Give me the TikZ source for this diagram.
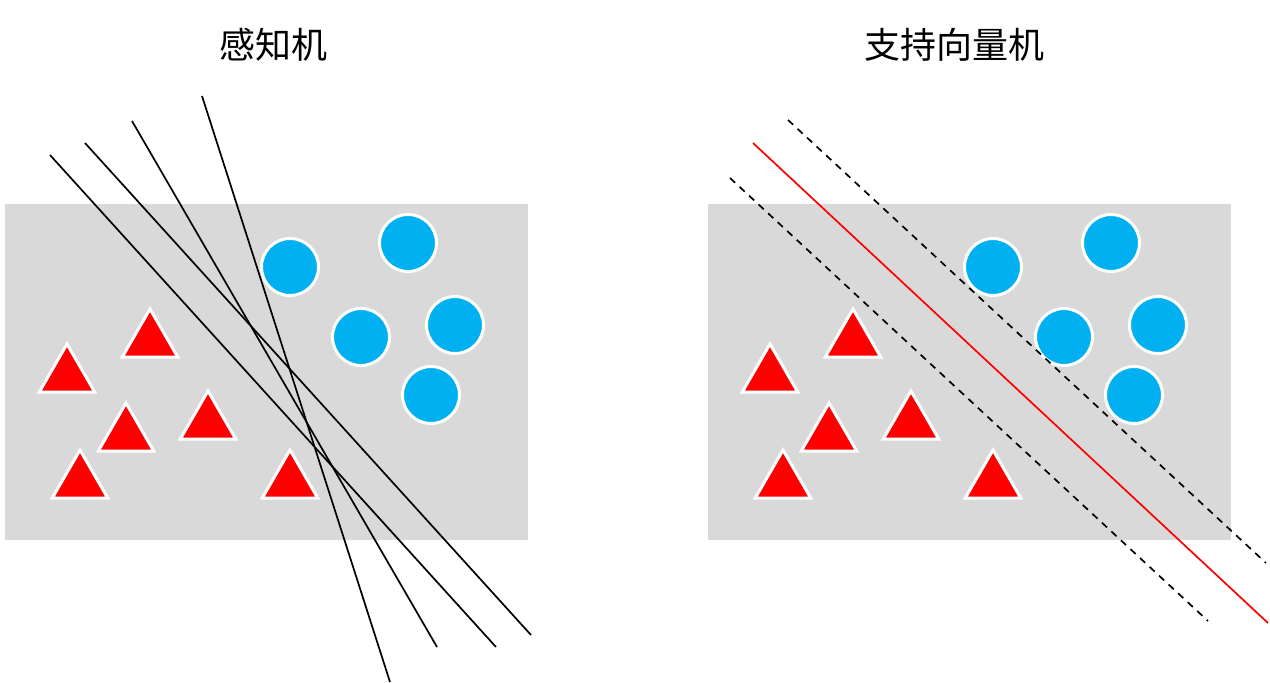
\documentclass[tikz,border=0pt]{standalone}
\usepackage{fontspec}
\newfontfamily\cjk{Noto Sans CJK SC}
\usetikzlibrary{shapes.geometric}
\definecolor{bgGray}{HTML}{D9D9D9}
\definecolor{dotBlue}{HTML}{00B0F0}
\definecolor{triRed}{HTML}{FF0000}
\tikzset{
  panel/.style={fill=bgGray, draw=none},
  blob/.style={circle, fill=dotBlue, draw=white, line width=3pt, minimum size=57pt, inner sep=0pt},
  tri/.style={regular polygon, regular polygon sides=3, fill=triRed, draw=white, line width=3pt, minimum size=64pt, inner sep=0pt},
  sepline/.style={black, line width=1.7pt},
  margin/.style={black, line width=1.7pt, dash pattern=on 7pt off 6pt},
  best/.style={triRed, line width=1.7pt},
  title/.style={font=\cjk\fontsize{36}{40}\selectfont, inner sep=0pt}
}
\begin{document}
\begin{tikzpicture}[x=1pt,y=-1pt]
\useasboundingbox (0,0) rectangle (1270,683);
% ---------- left panel: perceptron ----------
\node[title] (t1) at (273,45) {感知机};
\fill[panel] (5,204) rectangle (528,540);
\foreach \n/\x/\y in {a/290/267, b/408/243, c/361/337, d/455/325, e/431/395}
  \node[blob] (L\n) at (\x,\y) {};
\foreach \n/\x/\y in {a/150/341, b/67/376, c/126/435, d/208/423, e/80/482, f/290/482}
  \node[tri] (LT\n) at (\x,\y) {};
\coordinate (p1s) at (50,155);  \coordinate (p1e) at (496,647);
\coordinate (p2s) at (85,143);  \coordinate (p2e) at (531,635);
\coordinate (p3s) at (132,121); \coordinate (p3e) at (437,647);
\coordinate (p4s) at (202,96);  \coordinate (p4e) at (390,682);
\draw[sepline] (p1s) -- (p1e);
\draw[sepline] (p2s) -- (p2e);
\draw[sepline] (p3s) -- (p3e);
\draw[sepline] (p4s) -- (p4e);
% ---------- right panel: SVM ----------
\node[title] (t2) at (954,45) {支持向量机};
\fill[panel] (708,204) rectangle (1231,540);
\foreach \n/\x/\y in {a/993/267, b/1111/243, c/1064/337, d/1158/325, e/1134/395}
  \node[blob] (R\n) at (\x,\y) {};
\foreach \n/\x/\y in {a/853/341, b/770/376, c/829/435, d/911/423, e/783/482, f/993/482}
  \node[tri] (RT\n) at (\x,\y) {};
\coordinate (ms) at (753,143);  \coordinate (me) at (1268,623);
\coordinate (us) at (788,120);  \coordinate (ue) at (1266,563);
\coordinate (ls) at (730,178);  \coordinate (le) at (1208,621);
\draw[margin] (us) -- (ue);
\draw[margin] (ls) -- (le);
\draw[best] (ms) -- (me);
\end{tikzpicture}
\end{document}
